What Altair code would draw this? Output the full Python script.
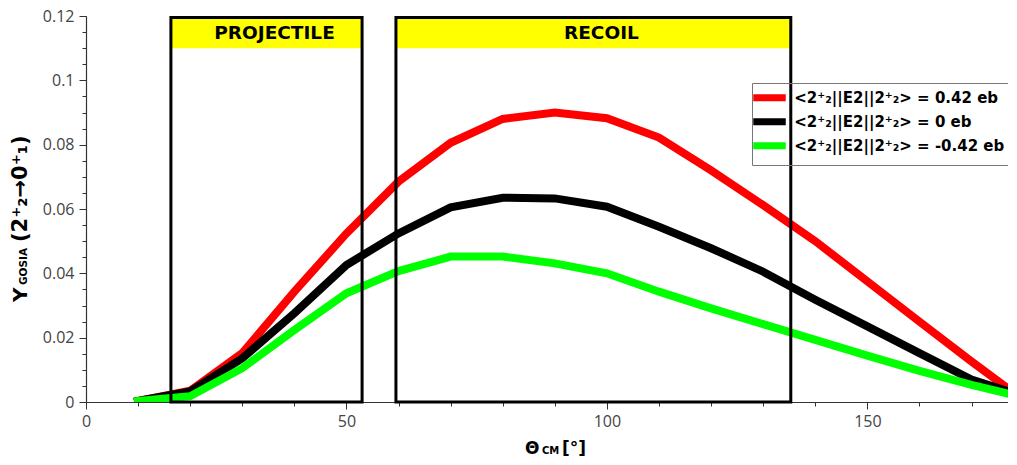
import altair as alt
import pandas as pd

# ---------------- data ----------------
theta = [10, 20, 30, 40, 50, 60, 70, 80, 90, 100, 110, 120, 130, 140, 150, 160, 170, 178]
y_plus = [0.0003, 0.0035, 0.0152, 0.0343, 0.0524, 0.0685, 0.0806, 0.0880, 0.0900, 0.0882,
          0.0822, 0.0720, 0.0612, 0.0500, 0.0375, 0.0250, 0.0126, 0.0030]
y_zero = [0.0003, 0.0033, 0.0136, 0.0276, 0.0426, 0.0524, 0.0605, 0.0635, 0.0633, 0.0607,
          0.0545, 0.0478, 0.0405, 0.0318, 0.0235, 0.0152, 0.0070, 0.0028]
y_minus = [0.0003, 0.0018, 0.0105, 0.0224, 0.0338, 0.0407, 0.0452, 0.0452, 0.0431, 0.0400,
           0.0343, 0.0291, 0.0242, 0.0193, 0.0144, 0.0097, 0.0053, 0.0022]

series_labels = ["<2⁺₂||E2||2⁺₂> = 0.42 eb",
                 "<2⁺₂||E2||2⁺₂> = 0 eb",
                 "<2⁺₂||E2||2⁺₂> = -0.42 eb"]
series_colors = ["#ff0000", "#000000", "#00ff00"]

box_names = ["PROJECTILE", "RECOIL"]
box_left = [16.3, 59.5]
box_right = [53.0, 135.3]
box_top = [0.1195, 0.1195]
header_bottom = [0.110, 0.110]

x_major = [0, 50, 100, 150]
x_minor = [0, 10, 20, 30, 40, 50, 60, 70, 80, 90, 100, 110, 120, 130, 140, 150, 160, 170]
y_major = [0, 0.02, 0.04, 0.06, 0.08, 0.1, 0.12]
y_minor = [0, 0.005, 0.01, 0.015, 0.02, 0.025, 0.03, 0.035, 0.04, 0.045, 0.05, 0.055, 0.06,
           0.065, 0.07, 0.075, 0.08, 0.085, 0.09, 0.095, 0.1, 0.105, 0.11, 0.115, 0.12]

y_title_parts = ["Y", "GOSIA", "(2⁺₂→0⁺₁)"]
x_title_parts = ["Θ", "CM", "[°]"]

# ---------------- tables ----------------
rows = []
for k, vals in enumerate([y_plus, y_zero, y_minus]):
    for t, v in zip(theta, vals):
        rows.append({"theta": t, "Y": v, "series": series_labels[k], "k": k})
df = pd.DataFrame(rows)

boxes = pd.DataFrame({"name": box_names, "x0": box_left, "x1": box_right,
                      "top": box_top, "hb": header_bottom, "bottom": [0, 0]})

W, H = 922, 386
xs = alt.Scale(domain=[0, 177], nice=False, zero=False)
ys = alt.Scale(domain=[0, 0.12], nice=False)

BOLD_FONT = "DejaVu Sans"

major_x_axis = alt.Axis(values=x_major, title=None, tickSize=7, labelPadding=4,
                        labelFlush=False, labelOverlap=False)
major_y_axis = alt.Axis(values=y_major, title=None, tickSize=7, labelPadding=5,
                        format=".2~f", labelOverlap=False)
minor_x_axis = alt.Axis(values=x_minor, title=None, tickSize=4, labels=False,
                        domain=False, orient="bottom")
minor_y_axis = alt.Axis(values=y_minor, title=None, tickSize=4, labels=False,
                        domain=False, orient="left")

legend = alt.Legend(orient="none", legendX=666, legendY=67, title=None,
                    symbolType="M-2.5,0H2.5", symbolSize=169, symbolStrokeWidth=7,
                    symbolOffset=2.8,
                    labelFont=BOLD_FONT, labelFontSize=15, labelFontWeight="bold",
                    labelColor="#000000", labelOffset=14.8, labelLimit=500,
                    strokeColor="#777777", padding=4.7, rowPadding=-4.7)

color = alt.Color("series:N", scale=alt.Scale(domain=series_labels, range=series_colors),
                  legend=legend)

layers = []
for k in range(3):
    first = k == 0
    layers.append(
        alt.Chart(df)
        .transform_filter(alt.datum.k == k)
        .mark_line(strokeWidth=8, strokeCap="square", strokeJoin="miter", clip=True)
        .encode(
            x=alt.X("theta:Q", scale=xs, axis=major_x_axis if first else None),
            y=alt.Y("Y:Q", scale=ys, axis=major_y_axis if first else None),
            color=color,
        )
    )

header = alt.Chart(boxes).mark_rect(color="#ffff00").encode(
    x=alt.X("x0:Q", scale=xs, axis=None), x2="x1",
    y=alt.Y("hb:Q", scale=ys, axis=None), y2="top",
)
header_text = alt.Chart(boxes).transform_calculate(
    xc="(datum.x0 + datum.x1) / 2", yc="(datum.hb + datum.top) / 2"
).mark_text(font=BOLD_FONT, fontWeight="bold", fontSize=18.5, baseline="middle",
            align="center", dx=8, color="#000000").encode(
    x=alt.X("xc:Q", scale=xs, axis=None),
    y=alt.Y("yc:Q", scale=ys, axis=None),
    text="name:N",
)
border = alt.Chart(boxes).mark_rect(fillOpacity=0, stroke="#000000", strokeWidth=3).encode(
    x=alt.X("x0:Q", scale=xs, axis=minor_x_axis), x2="x1",
    y=alt.Y("bottom:Q", scale=ys, axis=minor_y_axis), y2="top",
)


def title_piece(text, size, x, y, angle=0):
    return alt.Chart(pd.DataFrame({"t": [text]})).mark_text(
        font=BOLD_FONT, fontWeight="bold", fontSize=size, align="left",
        baseline="alphabetic", angle=angle, color="#000000"
    ).encode(text="t:N", x=alt.value(x), y=alt.value(y))


# y-axis title pieces (rotated), x-axis title pieces
titles = [
    title_piece(y_title_parts[0], 20, -59, 286, 270),
    title_piece(y_title_parts[1], 10.5, -59, 269, 270),
    title_piece(y_title_parts[2], 21, -59, 226, 270),
    title_piece(x_title_parts[0], 17, 439, 438),
    title_piece(x_title_parts[1], 10, 456, 438),
    title_piece(x_title_parts[2], 17, 476, 438),
]

chart = alt.layer(*layers, header, header_text, border, *titles).resolve_axis(
    x="independent", y="independent"
).properties(
    width=W, height=H,
    autosize=alt.AutoSizeParams(type="none"),
    padding={"left": 78, "top": 8, "right": 0, "bottom": 55},
    background="#ffffff",
).configure_view(strokeWidth=0).configure_axis(
    grid=False, domainColor="#333333", tickColor="#333333", labelColor="#444444",
    labelFont="Open Sans", labelFontSize=16, domainWidth=1.2,
)

chart.save("out.html", embed_options={"renderer": "svg", "actions": False})
